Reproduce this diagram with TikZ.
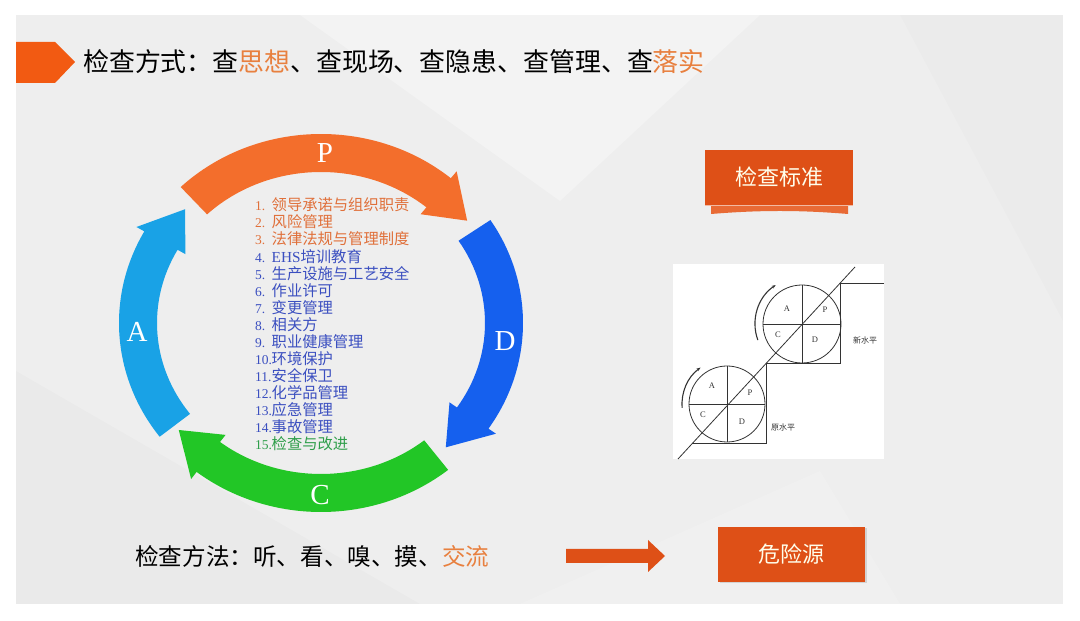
\documentclass[tikz,border=0pt]{standalone}
\usepackage{fontspec}
\setmainfont{Liberation Serif}
\newfontfamily\cjk{Noto Sans CJK SC}
\newfontfamily\numf{Liberation Serif}
\usetikzlibrary{shadows,arrows.meta}
\definecolor{bgc}{HTML}{EEEEEE}
\definecolor{tagc}{HTML}{F25A12}
\definecolor{boxc}{HTML}{DE5017}
\definecolor{ribc}{HTML}{E86A35}
\definecolor{hlc}{HTML}{E8803F}
\definecolor{pcol}{HTML}{F36E2C}
\definecolor{dcol}{HTML}{1560EE}
\definecolor{ccol}{HTML}{22C626}
\definecolor{acol}{HTML}{19A2E6}
\definecolor{lorange}{HTML}{E0703A}
\definecolor{lblue}{HTML}{3B4FC0}
\definecolor{lgreen}{HTML}{2E9E4A}
\definecolor{inkc}{HTML}{333333}
% band: color, tail angle, head-base angle, tip angle
\newcommand\pdcaband[4]{%
  \fill[#1] (#2:{183+19} and {170+19})
    arc[start angle=#2, end angle=#3, x radius=202, y radius=189]
    -- (#3:{183+28} and {170+28}) -- (#4:183 and 170)
    -- (#3:{183-28} and {170-28}) -- (#3:{183-19} and {170-19})
    arc[start angle=#3, end angle=#2, x radius=164, y radius=151] -- cycle;}
\newcommand\listline[5]{%
  \node[listtext, text=#2, anchor=west] (#1) at (255,#3)
    {\makebox[16.5pt][l]{\numf\fontsize{13.5}{15}\selectfont #4}#5};}
\begin{document}
\begin{tikzpicture}[x=1pt,y=1pt,
  titletext/.style={font=\cjk\fontsize{25.9}{30}\selectfont, inner sep=0pt, text=black},
  methtext/.style={font=\cjk\fontsize{23.6}{28}\selectfont, inner sep=0pt, text=black},
  listtext/.style={font=\cjk\fontsize{15.3}{18}\selectfont, inner sep=0pt},
  letter/.style={font=\numf\fontsize{29}{32}\selectfont, text=white, inner sep=0pt},
  obox/.style={fill=boxc, text=white!92!yellow, font=\cjk\fontsize{22}{26}\selectfont,
     inner sep=0pt, minimum height=55pt},
  small/.style={font=\numf\fontsize{8.5}{10}\selectfont, text=inkc, inner sep=0pt},
  smallcjk/.style={font=\cjk\fontsize{8}{10}\selectfont, text=inkc, inner sep=0pt},
  ink/.style={draw=inkc, line width=0.8pt}]
\useasboundingbox (0,0) rectangle (1080,621);
\fill[white] (0,0) rectangle (1080,621);
\fill[bgc] (16,17) rectangle (1063,606);
% faint background facets
\fill[white, opacity=0.3] (300,606) -- (760,606) -- (560,420) -- cycle;
\fill[white, opacity=0.15] (520,17) -- (900,17) -- (820,150) -- cycle;
\fill[black, opacity=0.015] (16,17) -- (16,250) -- (420,17) -- cycle;
\fill[black, opacity=0.012] (900,606) -- (1063,606) -- (1063,300) -- cycle;

% title tag
\fill[tagc] (16,579) -- (55,579) -- (75,559) -- (55,538) -- (16,538) -- cycle;
\node[titletext, anchor=west] (title) at (83,559)
  {检查方式：查\textcolor{hlc}{思想}、查现场、查隐患、查管理、查\textcolor{hlc}{落实}};

% PDCA cycle
\begin{scope}[shift={(321,298)}]
  \pdcaband{pcol}{134}{50}{37}
  \pdcaband{dcol}{33}{-34}{-47}
  \pdcaband{ccol}{-51}{-128}{-141}
  \pdcaband{acol}{-143}{-209}{-222}
\end{scope}
\node[letter] (P) at (325,468) {P};
\node[letter] (D) at (505,280) {D};
\node[letter] (C) at (320,126) {C};
\node[letter] (A) at (137,289) {A};

% list
\listline{l1}{lorange}{416.0}{1.}{领导承诺与组织职责}
\listline{l2}{lorange}{398.9}{2.}{风险管理}
\listline{l3}{lorange}{381.9}{3.}{法律法规与管理制度}
\listline{l4}{lblue}{364.8}{4.}{{\numf EHS}培训教育}
\listline{l5}{lblue}{347.7}{5.}{生产设施与工艺安全}
\listline{l6}{lblue}{330.7}{6.}{作业许可}
\listline{l7}{lblue}{313.6}{7.}{变更管理}
\listline{l8}{lblue}{296.5}{8.}{相关方}
\listline{l9}{lblue}{279.4}{9.}{职业健康管理}
\listline{l10}{lblue}{262.4}{10.}{环境保护}
\listline{l11}{lblue}{245.3}{11.}{安全保卫}
\listline{l12}{lblue}{228.2}{12.}{化学品管理}
\listline{l13}{lblue}{211.2}{13.}{应急管理}
\listline{l14}{lblue}{194.1}{14.}{事故管理}
\listline{l15}{lgreen}{177.0}{15.}{检查与改进}

% 检查标准 box with ribbon
\fill[ribc] (711,417) -- (848,417) -- (848,407) .. controls (800,411) and (760,411) .. (711,407) -- cycle;
\node[obox, minimum width=148pt] (std) at (779,443.5) {检查标准};
\draw[white!60!boxc, line width=0.6pt] (std.south west) -- (std.south east);

% staircase picture
\fill[white] (673,162) rectangle (884,357);
\node[circle, ink, minimum size=78pt, inner sep=0pt] (cu) at (802,297) {};
\node[circle, ink, minimum size=76pt, inner sep=0pt] (cl) at (727,217) {};
\draw[ink] (cu.north) -- (cu.south) (cu.west) -- (cu.east);
\draw[ink] (cl.north) -- (cl.south) (cl.west) -- (cl.east);
\coordinate (dg1) at (678,162);
\coordinate (dg2) at (855,354);
\draw[ink] (dg1) -- (dg2);
\coordinate (st0) at (692,178);
\draw[ink] (st0) -| (766,258) -| (840,338) -- (884,338);
\draw[draw=inkc, line width=1.1pt, -{Stealth[length=4pt,width=3pt]}]
  (cu.center) ++(200:47) arc[start angle=200, end angle=124, radius=47];
\draw[draw=inkc, line width=1.1pt, -{Stealth[length=4pt,width=3pt]}]
  (cl.center) ++(185:45) arc[start angle=185, end angle=126, radius=45];
\node[small] (ua) at (787,312) {A};
\node[small] (up) at (825,311) {P};
\node[small] (uc) at (778,286) {C};
\node[small] (ud) at (815,281) {D};
\node[small] (la) at (712,235) {A};
\node[small] (lp) at (750,228) {P};
\node[small] (lc) at (703,206) {C};
\node[small] (ld) at (742,199) {D};
\node[smallcjk] (new) at (865,281) {新水平};
\node[smallcjk] (old) at (783,194) {原水平};

% bottom method line
\node[methtext, anchor=west] (meth) at (135,65)
  {检查方法：听、看、嗅、摸、\textcolor{hlc}{交流}};
\coordinate (ba) at (566,65);
\fill[boxc] (ba) ++(0,-7) -- ++(82,0) -- ++(0,-9) -- (665,65) -- (648,81) -- (648,72) -- (566,72) -- cycle;
\node[obox, minimum width=147pt,
  drop shadow={opacity=0.25, shadow xshift=1.5pt, shadow yshift=-1.5pt}] (haz) at (791.5,66.5) {危险源};
\end{tikzpicture}
\end{document}
